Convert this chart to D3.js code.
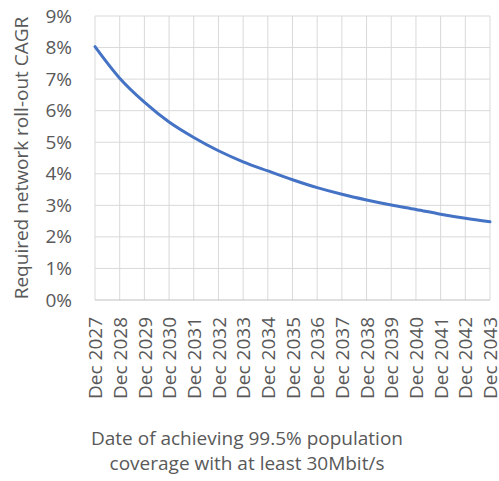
<!DOCTYPE html>
<html>
<head>
<meta charset="utf-8">
<script src="https://cdn.jsdelivr.net/npm/d3@7"></script>
<style>
  body { margin: 0; background: #fff; }
  svg text { font-family: "Open Sans", "Noto Sans", sans-serif; fill: #595959; }
</style>
</head>
<body>
<svg id="chart" width="499" height="481"></svg>
<script>
const categories = ["Dec 2027","Dec 2028","Dec 2029","Dec 2030","Dec 2031","Dec 2032","Dec 2033","Dec 2034","Dec 2035","Dec 2036","Dec 2037","Dec 2038","Dec 2039","Dec 2040","Dec 2041","Dec 2042","Dec 2043"];
const cagrValues = [0.0803, 0.0703, 0.0627, 0.0564, 0.0515, 0.0473, 0.0438, 0.0409, 0.0381, 0.0356, 0.0335, 0.0317, 0.0301, 0.0287, 0.0272, 0.0259, 0.0248];
const yTicks = [0, 0.01, 0.02, 0.03, 0.04, 0.05, 0.06, 0.07, 0.08, 0.09];
const yTitle = "Required network roll-out CAGR";
const xTitleLines = ["Date of achieving 99.5% population", "coverage with at least 30Mbit/s"];

const svg = d3.select("#chart");
const m = { left: 95, right: 9, top: 16, bottom: 181 };
const W = 499, H = 481;
const iw = W - m.left - m.right, ih = H - m.top - m.bottom;

const x = d3.scalePoint().domain(categories).range([0, iw]);
const y = d3.scaleLinear().domain([0, 0.09]).range([ih, 0]);

const g = svg.append("g").attr("transform", `translate(${m.left},${m.top})`);

// horizontal gridlines
g.append("g").selectAll("line").data(yTicks.slice(1)).join("line")
  .attr("x1", 0).attr("x2", iw)
  .attr("y1", d => y(d)).attr("y2", d => y(d))
  .attr("stroke", "#d9d9d9").attr("stroke-width", 1);
// vertical gridlines
g.append("g").selectAll("line").data(categories).join("line")
  .attr("x1", d => x(d)).attr("x2", d => x(d))
  .attr("y1", 0).attr("y2", ih)
  .attr("stroke", "#d9d9d9").attr("stroke-width", 1);

// x axis line
g.append("line").attr("x1", 0).attr("x2", iw).attr("y1", ih).attr("y2", ih)
  .attr("stroke", "#bfbfbf").attr("stroke-width", 1);

// y axis ticks
const yAxis = d3.axisLeft(y).tickValues(yTicks).tickFormat(d3.format(".0%")).tickSize(0).tickPadding(23);
const ya = g.append("g").call(yAxis);
ya.select(".domain").remove();
ya.selectAll("text").style("font-size", "19px").attr("fill", "#595959");

// x axis ticks
const xAxis = d3.axisBottom(x).tickSize(0).tickPadding(0);
const xa = g.append("g").attr("transform", `translate(0,${ih})`).call(xAxis);
xa.select(".domain").remove();
xa.selectAll("text")
  .style("font-size", "19px").attr("fill", "#595959")
  .attr("text-anchor", "end")
  .attr("transform", "rotate(-90)")
  .attr("x", -17).attr("y", 0).attr("dy", "0.35em");

// line
const line = d3.line().x((d, i) => x(categories[i])).y(d => y(d)).curve(d3.curveMonotoneX);
g.append("path").datum(cagrValues).attr("d", line)
  .attr("fill", "none").attr("stroke", "#4472C4").attr("stroke-width", 3).attr("stroke-linecap", "round");

// y title
svg.append("text")
  .attr("transform", `translate(21,${m.top + ih / 2}) rotate(-90)`)
  .attr("text-anchor", "middle").attr("dy", "0.35em")
  .style("font-size", "19px")
  .text(yTitle);

// x title
svg.append("text").attr("text-anchor", "middle").style("font-size", "19px")
  .selectAll("tspan").data(xTitleLines).join("tspan")
  .attr("x", 247).attr("y", (d, i) => 445 + i * 25).text(d => d);
</script>
</body>
</html>
